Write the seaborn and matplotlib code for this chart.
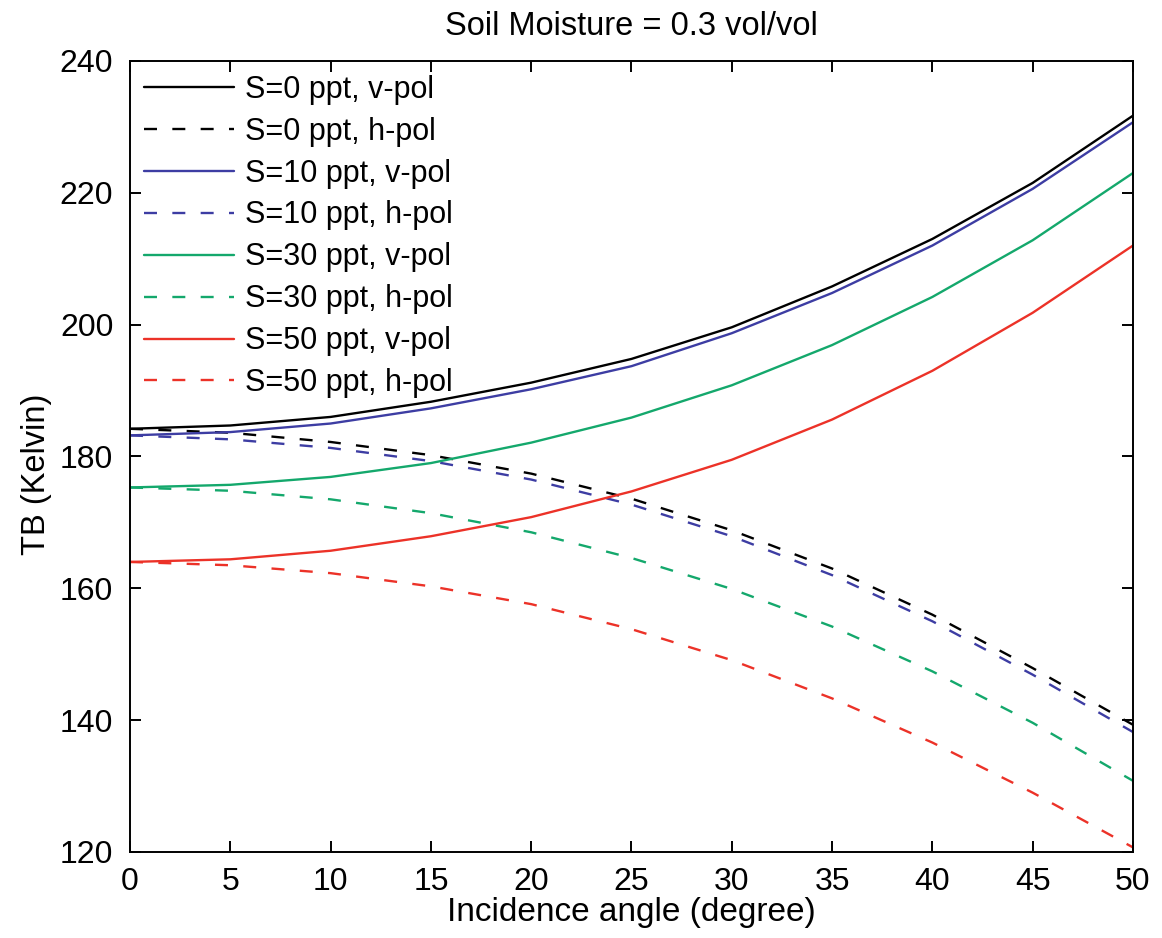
import numpy as np
import pandas as pd
import matplotlib
matplotlib.use("Agg")
import matplotlib.pyplot as plt
import seaborn as sns

# Incidence angle grid (degrees)
angle = [0, 5, 10, 15, 20, 25, 30, 35, 40, 45, 50]

# Brightness temperature (K) per salinity / polarisation
tb_s0_v = [184.2, 184.7, 186.0, 188.3, 191.2, 194.8, 199.6, 205.8, 213.0, 221.5, 231.7]
tb_s0_h = [184.2, 183.6, 182.2, 180.2, 177.4, 173.6, 168.8, 163.0, 156.0, 147.9, 139.3]
tb_s10_v = [183.2, 183.7, 185.0, 187.3, 190.2, 193.7, 198.7, 204.8, 212.0, 220.6, 230.7]
tb_s10_h = [183.2, 182.6, 181.3, 179.3, 176.5, 172.7, 167.9, 162.0, 155.0, 146.9, 138.2]
tb_s30_v = [175.3, 175.7, 176.9, 179.0, 182.1, 185.9, 190.8, 196.9, 204.2, 212.8, 223.0]
tb_s30_h = [175.3, 174.8, 173.5, 171.4, 168.5, 164.6, 159.9, 154.2, 147.4, 139.6, 130.8]
tb_s50_v = [164.0, 164.4, 165.7, 167.9, 170.8, 174.7, 179.5, 185.6, 193.0, 201.8, 212.0]
tb_s50_h = [164.0, 163.5, 162.3, 160.3, 157.6, 153.8, 149.1, 143.3, 136.6, 129.0, 120.7]

labels = [
    "S=0 ppt, v-pol", "S=0 ppt, h-pol",
    "S=10 ppt, v-pol", "S=10 ppt, h-pol",
    "S=30 ppt, v-pol", "S=30 ppt, h-pol",
    "S=50 ppt, v-pol", "S=50 ppt, h-pol",
]
series = [tb_s0_v, tb_s0_h, tb_s10_v, tb_s10_h,
          tb_s30_v, tb_s30_h, tb_s50_v, tb_s50_h]

c_black = "#000000"
c_blue = "#3d3da3"
c_green = "#14a86c"
c_red = "#ec3228"
palette = dict(zip(labels, [c_black, c_black, c_blue, c_blue,
                            c_green, c_green, c_red, c_red]))
dash_on, dash_off = 5.5, 6.5
dashes = {lab: ("" if "v-pol" in lab else (dash_on, dash_off)) for lab in labels}

df = pd.concat(
    [pd.DataFrame({"angle": angle, "tb": vals, "series": lab})
     for lab, vals in zip(labels, series)],
    ignore_index=True,
)

sns.set_style("ticks")
plt.rcParams["font.family"] = ["Liberation Sans", "DejaVu Sans"]
plt.rcParams["text.color"] = "black"
plt.rcParams["axes.labelcolor"] = "black"

fig = plt.figure(figsize=(11.62, 9.38), dpi=100)
ax = fig.add_axes([0.1119, 0.0917, 0.8631, 0.8433])

sns.lineplot(
    data=df, x="angle", y="tb", hue="series", style="series",
    hue_order=labels, style_order=labels, palette=palette, dashes=dashes,
    estimator=None, sort=True, linewidth=1.7, ax=ax,
)

ax.set_xlim(0, 50)
ax.set_ylim(120, 240)
ax.set_xticks(np.arange(0, 51, 5))
ax.set_yticks(np.arange(120, 241, 20))
ax.tick_params(direction="in", length=8, width=1.4, labelsize=23,
               top=True, right=True, colors="black")
ax.tick_params(axis="x", pad=11)
ax.tick_params(axis="y", pad=12)
for sp in ax.spines.values():
    sp.set_visible(True)
    sp.set_linewidth(1.4)
    sp.set_color("black")

ax.set_xlabel("Incidence angle (degree)", fontsize=24, labelpad=0, color="black")
ax.set_ylabel("TB (Kelvin)", fontsize=23.5, labelpad=6, color="black")
ax.yaxis.label.set_y(0.477)
ax.set_title("Soil Moisture = 0.3 vol/vol", fontsize=23.5, pad=19, color="black")

leg = ax.legend(
    loc="upper left", frameon=False, fontsize=22, handlelength=2.95,
    handletextpad=0.36, labelspacing=0.39, borderaxespad=0.25,
    borderpad=0.2,
)
for t in leg.get_texts():
    t.set_color("black")

fig.savefig("out.png", dpi=100)
